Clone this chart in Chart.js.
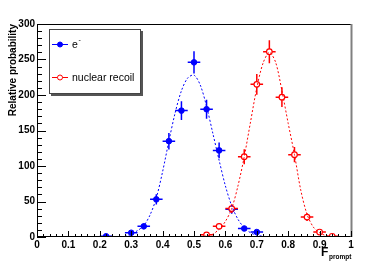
<!DOCTYPE html>
<html><head><meta charset="utf-8">
<script src="https://cdn.jsdelivr.net/npm/chart.js@4/dist/chart.umd.min.js"></script>
<style>html,body{margin:0;padding:0;background:#fff}#wrap{width:388px;height:262px}</style>
</head><body><div id="wrap"><canvas id="c" width="388" height="262"></canvas></div>
<script>
// ---- data ----
const xTickLabels = ["0","0.1","0.2","0.3","0.4","0.5","0.6","0.7","0.8","0.9","1"];
const yTickLabels = ["0","50","100","150","200","250","300"];
const seriesNames = ["e-", "nuclear recoil"];

const eX   = [0.22,0.30,0.34,0.38,0.42,0.46,0.50,0.54,0.58,0.62,0.66,0.70];
const eY   = [1,   6,   15,  53,  135, 178, 246, 180, 122, 39,  12,  7];
const eErr = [1,   2.5, 3.9, 7.3, 11.6,13.3,15.7,13.4,11,  6.2, 3.5, 2.6];

const nrX   = [0.54,0.58,0.62,0.66,0.70,0.74,0.78,0.82,0.86,0.90,0.94];
const nrY   = [3,   15,  40,  113, 215, 261, 197, 116, 28,  7,   1];
const nrErr = [1.7, 3.9, 6.3, 10.6,14.7,16.2,14,  10.8,5.3, 2.6, 1];

const eFitX = [0.28,0.30,0.32,0.34,0.36,0.38,0.40,0.42,0.44,0.46,0.48,0.50,0.52,0.54,0.56,0.58,0.60,0.62,0.64,0.66,0.68,0.70,0.72,0.74];
const eFitY = [0.5, 4,   9,   16,  31,  55,  92,  135, 175, 206, 224, 228, 214, 184, 146, 108, 72,  44,  25,  13,  6,   2.5, 1,   0];

const nrFitX = [0.52,0.54,0.56,0.58,0.60,0.62,0.64,0.66,0.68,0.70,0.72,0.74,0.76,0.78,0.80,0.82,0.84,0.86,0.88,0.90,0.92,0.94];
const nrFitY = [0,   1.5, 4,   11,  22,  40,  72,  113, 162, 210, 245, 260, 246, 206, 160, 116, 66,  32,  14,  6,   2,   0.5];

const binHalf = 0.02;
const blueZeroX = [0, 1];
const redZeroX  = [0, 0.52, null, 0.88, 1];

const BLUE = "#0000ff", RED = "#ff0000";
const FONT = "'Liberation Sans', Arial, sans-serif";

function pts(xs, ys){ return xs.map((x,i)=> x===null ? {x:null,y:null} : {x:x, y: ys ? ys[i] : 0}); }

const errorBars = {
  id: 'errorBars',
  beforeDatasetDraw(chart, args) {
    const ds = chart.data.datasets[args.index];
    if (!ds.errY) return;
    const xs = chart.scales.x, ys = chart.scales.y, ctx = chart.ctx;
    ctx.save();
    ctx.strokeStyle = ds.borderColor; ctx.lineWidth = 1.5;
    ds.data.forEach((p,i)=>{
      const px = xs.getPixelForValue(p.x), py = ys.getPixelForValue(p.y);
      ctx.beginPath();
      ctx.moveTo(xs.getPixelForValue(p.x - binHalf), py);
      ctx.lineTo(xs.getPixelForValue(p.x + binHalf), py);
      ctx.moveTo(px, ys.getPixelForValue(p.y + ds.errY[i]));
      ctx.lineTo(px, ys.getPixelForValue(Math.max(0, p.y - ds.errY[i])));
      ctx.stroke();
    });
    ctx.restore();
  }
};

const frameTicks = {
  id: 'frameTicks',
  afterDatasetsDraw(chart) {
    const {ctx, chartArea:a} = chart;
    const xs = chart.scales.x, ys = chart.scales.y;
    ctx.save();
    ctx.strokeStyle = "#000"; ctx.lineWidth = 1;
    ctx.beginPath();
    ctx.moveTo(Math.round(a.left)+0.5, a.bottom); ctx.lineTo(Math.round(a.left)+0.5, Math.round(a.top)+0.5);
    ctx.lineTo(a.right, Math.round(a.top)+0.5);
    ctx.stroke();
    // bottom axis line
    ctx.beginPath();
    ctx.moveTo(a.left, Math.round(a.bottom)-0.5); ctx.lineTo(a.right, Math.round(a.bottom)-0.5);
    ctx.stroke();
    // right edge gray
    ctx.strokeStyle = "#808080"; ctx.lineWidth = 2;
    ctx.beginPath(); ctx.moveTo(a.right+0.5, a.top); ctx.lineTo(a.right+0.5, a.bottom); ctx.stroke();
    // ticks
    ctx.strokeStyle = "#000"; ctx.lineWidth = 1;
    ctx.beginPath();
    for (let k=0;k<=50;k++){
      const v = k*0.02; const px = Math.round(xs.getPixelForValue(v))+0.5;
      const len = (k%5===0) ? 6 : 3;
      ctx.moveTo(px, a.bottom); ctx.lineTo(px, a.bottom-len);
    }
    for (let k=0;k<=30;k++){
      const v = k*10; const py = Math.round(ys.getPixelForValue(v))+0.5;
      const len = (k%5===0) ? 9 : 5;
      ctx.moveTo(a.left, py); ctx.lineTo(a.left+len, py);
    }
    ctx.stroke();
    // x axis title F_prompt
    ctx.fillStyle = "#000"; ctx.textBaseline = "alphabetic"; ctx.textAlign = "left";
    ctx.font = "bold 12px " + FONT;
    ctx.fillText("F", 321, 256);
    ctx.font = "bold 6.5px " + FONT;
    ctx.fillText("prompt", 329, 259);
    ctx.restore();
  },
  afterDraw(chart) {
    const ctx = chart.ctx;
    ctx.save();
    // legend box with shadow
    ctx.fillStyle = "#555";
    ctx.fillRect(51, 31, 92, 65);
    ctx.fillStyle = "#fff";
    ctx.fillRect(49, 29, 92, 65);
    ctx.strokeStyle = "#444"; ctx.lineWidth = 1;
    ctx.strokeRect(49.5, 29.5, 91, 64);
    const entries = [
      {y: 44, color: BLUE, fill: BLUE, label: seriesNames[0]},
      {y: 77, color: RED, fill: "#fff", label: seriesNames[1]}
    ];
    entries.forEach(e=>{
      ctx.strokeStyle = e.color; ctx.lineWidth = 1;
      ctx.beginPath(); ctx.moveTo(52, e.y+0.5); ctx.lineTo(68, e.y+0.5); ctx.stroke();
      ctx.beginPath(); ctx.arc(60, e.y+0.5, 2.5, 0, Math.PI*2);
      ctx.fillStyle = e.fill; ctx.fill(); ctx.stroke();
      ctx.fillStyle = "#000"; ctx.textBaseline = "middle"; ctx.textAlign = "left";
      ctx.font = "10.5px " + FONT;
      if (e.label === "e-") {
        ctx.fillText("e", 72, e.y+1);
        ctx.font = "7px " + FONT;
        ctx.fillText("-", 78.5, e.y-4);
      } else {
        ctx.fillText(e.label, 72, e.y+1);
      }
    });
    ctx.restore();
  }
};

new Chart(document.getElementById('c'), {
  type: 'scatter',
  data: {
    datasets: [
      { data: pts(blueZeroX), showLine: true, borderColor: BLUE, borderWidth: 1.5, pointRadius: 0, spanGaps: false },
      { data: pts(redZeroX), showLine: true, borderColor: RED, borderWidth: 1.5, pointRadius: 0, spanGaps: false },
      { label: seriesNames[0]+" fit", data: pts(eFitX, eFitY), showLine: true, borderColor: BLUE, borderWidth: 1, borderDash: [2,2], pointRadius: 0, tension: 0.3 },
      { label: seriesNames[1]+" fit", data: pts(nrFitX, nrFitY), showLine: true, borderColor: RED, borderWidth: 1, borderDash: [2,2], pointRadius: 0, tension: 0.3 },
      { label: seriesNames[1], data: pts(nrX, nrY), errY: nrErr, borderColor: RED, backgroundColor: "#fff", pointRadius: 2.8, pointBorderWidth: 1.2, showLine: false },
      { label: seriesNames[0], data: pts(eX, eY), errY: eErr, borderColor: BLUE, backgroundColor: BLUE, pointRadius: 2.8, pointBorderWidth: 1, showLine: false }
    ]
  },
  options: {
    responsive: false, animation: false, devicePixelRatio: 1,
    layout: { padding: { left: 0, right: 37, top: 24, bottom: 0 } },
    plugins: { legend: { display: false }, tooltip: { enabled: false } },
    scales: {
      x: {
        type: 'linear', min: 0, max: 1,
        grid: { display: false, drawTicks: false }, border: { display: false },
        afterBuildTicks: s => { s.ticks = xTickLabels.map(t => ({ value: parseFloat(t) })); },
        ticks: { padding: 2, color: "#000", font: { family: FONT, size: 10, weight: 'bold' }, maxRotation: 0, autoSkip: false,
          callback: (v, i) => xTickLabels[i] },
        afterFit: s => { s.height = 25; }
      },
      y: {
        min: 0, max: 300,
        grid: { display: false, drawTicks: false }, border: { display: false },
        afterBuildTicks: s => { s.ticks = yTickLabels.map(t => ({ value: parseFloat(t) })); },
        ticks: { padding: 2, color: "#000", font: { family: FONT, size: 10, weight: 'bold' }, autoSkip: false,
          callback: (v, i) => yTickLabels[i] },
        title: { display: true, text: "Relative probability", align: 'end', color: "#000",
          font: { family: FONT, size: 10, weight: 'bold' }, padding: { top: 7, bottom: 0 } },
        afterFit: s => { s.width = 37; }
      }
    }
  },
  plugins: [errorBars, frameTicks]
});
</script></body></html>
